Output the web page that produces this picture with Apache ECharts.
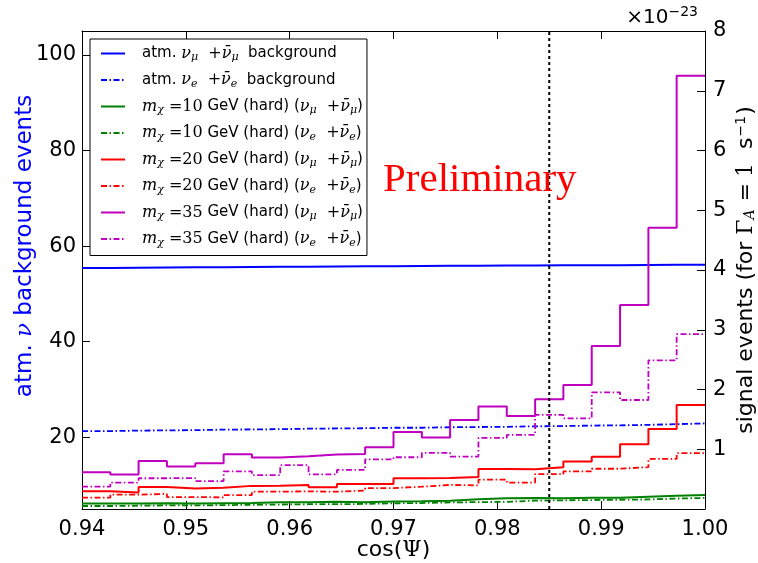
<!DOCTYPE html>
<html><head><meta charset="utf-8">
<script src="https://cdn.jsdelivr.net/npm/echarts@6/dist/echarts.min.js"></script>
<style>html,body{margin:0;padding:0;background:#fff}#c{width:758px;height:563px}</style>
</head><body><div id="c"></div>
<script>
// ---- data ----
const binEdges = [0.94, 0.94273, 0.94545, 0.94818, 0.95091, 0.95364, 0.95636, 0.95909, 0.96182, 0.96455, 0.96727, 0.97,
  0.97273, 0.97545, 0.97818, 0.98091, 0.98364, 0.98636, 0.98909, 0.99182, 0.99455, 0.99727, 1.0];
const xTicks = [0.94, 0.95, 0.96, 0.97, 0.98, 0.99, 1.00];
const leftTicks = [20, 40, 60, 80, 100];
const rightTicks = [1, 2, 3, 4, 5, 6, 7, 8];
const cutValue = 0.985;
const cutSpan = [5, 105];
// left axis (events)
const bgMu = [55.4, 55.45, 55.5, 55.55, 55.6, 55.65, 55.7, 55.7, 55.75, 55.8, 55.8, 55.85, 55.9, 55.9, 55.95, 55.95, 56.0, 56.0, 56.0, 56.05, 56.1, 56.1];
const bgE = [21.3, 21.4, 21.45, 21.5, 21.6, 21.65, 21.7, 21.8, 21.85, 21.9, 22.0, 22.0, 22.1, 22.15, 22.2, 22.3, 22.35, 22.45, 22.5, 22.6, 22.75, 22.9];
// right axis (signal events, x1e-23)
const sig10Mu = [0.09, 0.09, 0.095, 0.09, 0.095, 0.10, 0.115, 0.115, 0.12, 0.115, 0.125, 0.13, 0.14, 0.165, 0.18, 0.185, 0.18, 0.19, 0.19, 0.205, 0.22, 0.235];
const sig10E = [0.05, 0.055, 0.06, 0.06, 0.065, 0.07, 0.075, 0.08, 0.08, 0.085, 0.095, 0.10, 0.11, 0.115, 0.12, 0.14, 0.145, 0.15, 0.155, 0.16, 0.175, 0.185];
const sig20Mu = [0.298, 0.278, 0.37, 0.343, 0.355, 0.387, 0.39, 0.4, 0.365, 0.42, 0.42, 0.515, 0.52, 0.537, 0.671, 0.666, 0.699, 0.794, 0.875, 1.084, 1.34, 1.741];
const sig20E = [0.192, 0.24, 0.253, 0.2, 0.195, 0.231, 0.29, 0.295, 0.29, 0.31, 0.35, 0.373, 0.403, 0.395, 0.49, 0.443, 0.585, 0.63, 0.674, 0.7, 0.838, 0.935];
const sig35Mu = [0.617, 0.577, 0.805, 0.713, 0.766, 0.916, 0.864, 0.883, 0.911, 0.922, 1.033, 1.287, 1.195, 1.49, 1.717, 1.557, 1.836, 2.075, 2.727, 3.413, 4.707, 7.249];
const sig35E = [0.373, 0.443, 0.515, 0.518, 0.468, 0.63, 0.568, 0.735, 0.58, 0.654, 0.83, 0.866, 0.941, 0.878, 1.19, 1.24, 1.574, 1.518, 1.953, 1.824, 2.488, 2.928];

// ---- chart ----
function stepData(vals) {
  const d = vals.map((v, i) => [binEdges[i], v]);
  d.push([binEdges[vals.length], vals[vals.length - 1]]);
  return d;
}
const DASHDOT = [6, 2.5, 1.5, 2.5];
const names = ['bgMu', 'bgE', 's10Mu', 's10E', 's20Mu', 's20E', 's35Mu', 's35E'];
const MU = '{m|ν}{s|μ}{n|  +}{m|ν̄}{s|μ}';
const EE = '{m|ν}{s|e}{n|  +}{m|ν̄}{s|e}';
const labels = {
  bgMu: '{g|}{t|atm. }' + MU + '{t|  background}',
  bgE: '{g|}{t|atm. }' + EE + '{t|  background}',
  s10Mu: '{g|}{m|m}{s|χ}{n| =10}{t| GeV (hard) (}' + MU + '{t|)}',
  s10E: '{g|}{m|m}{s|χ}{n| =10}{t| GeV (hard) (}' + EE + '{t|)}',
  s20Mu: '{g|}{m|m}{s|χ}{n| =20}{t| GeV (hard) (}' + MU + '{t|)}',
  s20E: '{g|}{m|m}{s|χ}{n| =20}{t| GeV (hard) (}' + EE + '{t|)}',
  s35Mu: '{g|}{m|m}{s|χ}{n| =35}{t| GeV (hard) (}' + MU + '{t|)}',
  s35E: '{g|}{m|m}{s|χ}{n| =35}{t| GeV (hard) (}' + EE + '{t|)}'
};
const seriesDefs = [
  ['bgMu', bgMu, '#0000ff', 'solid', 0],
  ['bgE', bgE, '#0000ff', DASHDOT, 0],
  ['s10Mu', sig10Mu, '#008000', 'solid', 1],
  ['s10E', sig10E, '#008000', DASHDOT, 1],
  ['s20Mu', sig20Mu, '#ff0000', 'solid', 1],
  ['s20E', sig20E, '#ff0000', DASHDOT, 1],
  ['s35Mu', sig35Mu, '#bf00bf', 'solid', 1],
  ['s35E', sig35E, '#bf00bf', DASHDOT, 1]
];
const series = seriesDefs.map(([name, vals, color, type, yi]) => ({
  name, type: 'line', step: 'end', yAxisIndex: yi, xAxisIndex: 0,
  data: stepData(vals), symbol: 'none', showSymbol: false, animation: false,
  color, lineStyle: { color, width: type === 'solid' ? 2 : 1.8, type }, z: 3
}));
series.push({
  name: 'cut', type: 'line', xAxisIndex: 0, yAxisIndex: 0, animation: false, symbol: 'none',
  data: cutSpan.map(v => [cutValue, v]),
  lineStyle: { color: '#000', width: 2, type: [3, 3] }, z: 4
});

const mathRich = {
  t: { fontFamily: 'DejaVu Sans', fontSize: 15, color: '#000', lineHeight: 20 },
  m: { fontFamily: 'DejaVu Serif', fontStyle: 'italic', fontSize: 16, color: '#000', lineHeight: 20 },
  n: { fontFamily: 'DejaVu Serif', fontSize: 16, color: '#000', lineHeight: 20 },
  s: { fontFamily: 'DejaVu Serif', fontStyle: 'italic', fontSize: 11, color: '#000', lineHeight: 20, padding: [8, 0, 0, 0] },
  g: { width: 12 }
};

const axisBase = {
  axisLine: { show: true, onZero: false, lineStyle: { color: '#000', width: 1 } },
  axisTick: { show: true, inside: true, length: 8, lineStyle: { color: '#000', width: 1 } },
  splitLine: { show: false },
  nameMoveOverlap: false,
  axisLabel: { fontFamily: 'DejaVu Sans', fontSize: 21, color: '#000' }
};

const option = {
  backgroundColor: '#fff',
  animation: false,
  grid: { left: 82, right: 53, top: 31, bottom: 54, containLabel: false, outerBoundsMode: 'none' },
  legend: {
    data: names, orient: 'vertical', left: 90, top: 39,
    itemWidth: 24, itemHeight: 14, itemGap: 7.5,
    padding: [5, 4, 7, 10],
    backgroundColor: '#fff', borderColor: '#000', borderWidth: 1, borderRadius: 0,
    selectedMode: false,
    itemStyle: { opacity: 0 },
    formatter: n => labels[n],
    textStyle: { rich: mathRich }
  },
  xAxis: [
    Object.assign({}, axisBase, {
      type: 'value', min: 0.94, max: 1.0, position: 'bottom',
      name: '{t|cos(}{p|Ψ}{t|)}', nameLocation: 'middle', nameGap: 30,
      nameTextStyle: { rich: {
        t: { fontFamily: 'DejaVu Sans', fontSize: 22, color: '#000' },
        p: { fontFamily: 'DejaVu Serif', fontSize: 22, color: '#000' } } },
      axisLabel: { fontFamily: 'DejaVu Sans', fontSize: 21, color: '#000', margin: 10,
        customValues: xTicks, formatter: v => v.toFixed(2) },
      axisTick: { show: true, inside: true, length: 8, customValues: xTicks, lineStyle: { color: '#000' } }
    }),
    Object.assign({}, axisBase, {
      type: 'value', min: 0.94, max: 1.0, position: 'top',
      axisLabel: { show: false },
      axisTick: { show: true, inside: true, length: 8, customValues: xTicks, lineStyle: { color: '#000' } }
    })
  ],
  yAxis: [
    Object.assign({}, axisBase, {
      type: 'value', min: 5, max: 105, position: 'left',
      name: '{t|atm. }{m|ν}{t| background events}', nameLocation: 'middle', nameGap: 45,
      nameTextStyle: { padding: [0, 0, 0, 48], rich: {
        t: { fontFamily: 'DejaVu Sans', fontSize: 23, color: '#0000ff' },
        m: { fontFamily: 'DejaVu Serif', fontStyle: 'italic', fontSize: 23, color: '#0000ff' } } },
      axisLabel: { fontFamily: 'DejaVu Sans', fontSize: 21, color: '#000', margin: 6, customValues: leftTicks },
      axisTick: { show: true, inside: true, length: 8, customValues: leftTicks, lineStyle: { color: '#000' } }
    }),
    Object.assign({}, axisBase, {
      type: 'value', min: 0, max: 8, position: 'right',
      name: '{t|signal events (for }{n|Γ}{s|A}{q|=}{n|1}{t|  s}{u|−1}{t|)}', nameLocation: 'middle', nameGap: 27,
      nameTextStyle: { rich: {
        t: { fontFamily: 'DejaVu Sans', fontSize: 22, color: '#000', lineHeight: 28 },
        n: { fontFamily: 'DejaVu Serif', fontSize: 22, color: '#000', lineHeight: 28 },
        q: { fontFamily: 'DejaVu Serif', fontSize: 22, color: '#000', lineHeight: 28, padding: [0, 6, 0, 8] },
        s: { fontFamily: 'DejaVu Serif', fontStyle: 'italic', fontSize: 14, color: '#000', lineHeight: 28, padding: [9, 0, 0, 0] },
        u: { fontFamily: 'DejaVu Sans', fontSize: 14, color: '#000', lineHeight: 28, padding: [0, 1, 10, 1] } } },
      axisLabel: { fontFamily: 'DejaVu Sans', fontSize: 21, color: '#000', margin: 8, customValues: rightTicks },
      axisTick: { show: true, inside: true, length: 8, customValues: rightTicks, lineStyle: { color: '#000' } }
    })
  ],
  graphic: [
    { type: 'text', left: 383, top: 160, z: 10,
      style: { text: 'Preliminary', fill: '#ff0000', font: '41px "Liberation Serif"' } },
    { type: 'text', right: 60, top: 2, z: 10,
      style: { text: '{a|×10}{b|−23}', rich: {
        a: { fontFamily: 'DejaVu Sans', fontSize: 20, fill: '#000', color: '#000', lineHeight: 28, padding: [6, 0, 0, 0] },
        b: { fontFamily: 'DejaVu Sans', fontSize: 14, fill: '#000', color: '#000', lineHeight: 28, padding: [0, 0, 6, 0] } } } }
  ],
  series
};
const chart = echarts.init(document.getElementById('c'), null, { renderer: 'canvas' });
chart.setOption(option);
</script></body></html>
